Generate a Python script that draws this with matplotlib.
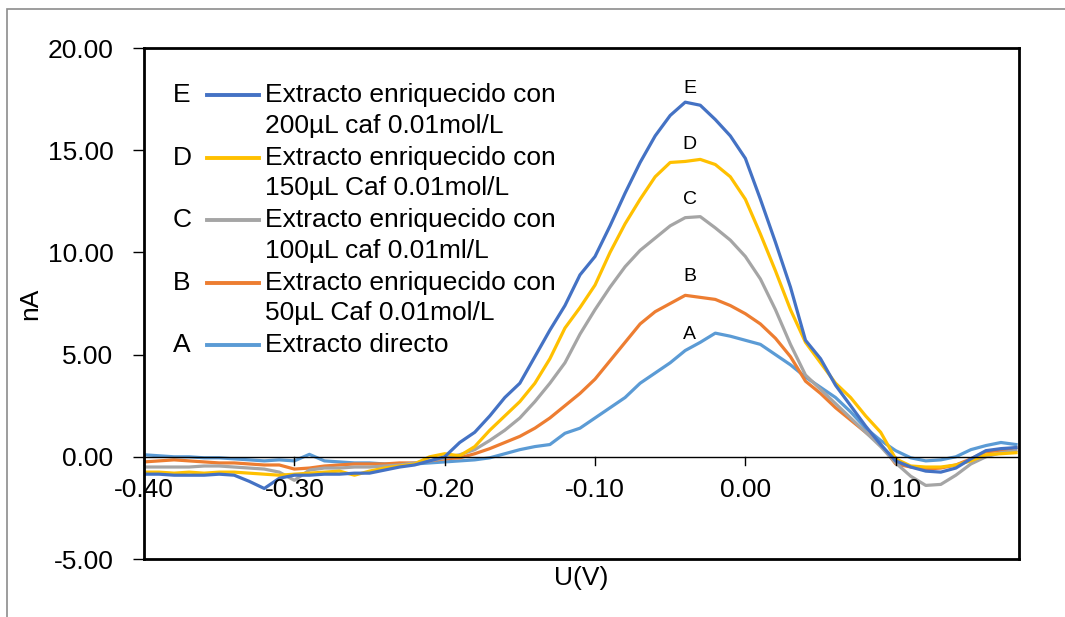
import numpy as np
import matplotlib
matplotlib.use("Agg")
import matplotlib.pyplot as plt
from matplotlib.patches import Rectangle

plt.rcParams['font.family'] = ['Liberation Sans', 'DejaVu Sans']

# potencial (V)
U = np.round(np.arange(-0.40, 0.1801, 0.01), 2)

# corriente (nA) de cada curva
E = [-0.85, -0.85, -0.9, -0.9, -0.9, -0.85, -0.9, -1.2, -1.55, -1.05,
     -0.9, -0.9, -0.85, -0.85, -0.8, -0.8, -0.65, -0.5, -0.4, -0.2,
     0.0, 0.7, 1.2, 2.0, 2.9, 3.6, 4.9, 6.2, 7.4, 8.9,
     9.8, 11.3, 12.9, 14.4, 15.7, 16.7, 17.35, 17.2, 16.5, 15.7,
     14.6, 12.6, 10.5, 8.3, 5.7, 4.8, 3.5, 2.5, 1.5, 0.6,
     -0.2, -0.5, -0.7, -0.75, -0.55, -0.1, 0.3, 0.4, 0.45]
D = [-0.75, -0.75, -0.8, -0.75, -0.8, -0.75, -0.75, -0.8, -0.85, -0.9,
     -0.85, -0.8, -0.75, -0.7, -0.9, -0.7, -0.55, -0.45, -0.35, 0.0,
     0.15, 0.05, 0.5, 1.3, 2.0, 2.7, 3.6, 4.8, 6.3, 7.3,
     8.4, 10.0, 11.4, 12.6, 13.7, 14.4, 14.45, 14.55, 14.3, 13.7,
     12.6, 10.9, 9.1, 7.2, 5.6, 4.6, 3.6, 2.9, 2.0, 1.2,
     -0.1, -0.45, -0.5, -0.5, -0.4, -0.2, 0.1, 0.15, 0.2]
C = [-0.5, -0.5, -0.5, -0.5, -0.45, -0.45, -0.5, -0.55, -0.6, -0.75,
     -1.15, -0.65, -0.55, -0.55, -0.5, -0.5, -0.45, -0.4, -0.3, -0.2,
     -0.05, 0.1, 0.35, 0.8, 1.3, 1.9, 2.7, 3.6, 4.6, 6.0,
     7.2, 8.3, 9.3, 10.1, 10.7, 11.3, 11.7, 11.75, 11.2, 10.6,
     9.8, 8.7, 7.2, 5.5, 4.0, 3.3, 2.6, 1.9, 1.2, 0.5,
     -0.3, -0.95, -1.4, -1.35, -0.9, -0.35, 0.0, 0.2, 0.3]
B = [-0.25, -0.2, -0.15, -0.2, -0.25, -0.3, -0.3, -0.35, -0.4, -0.4,
     -0.6, -0.55, -0.45, -0.4, -0.35, -0.35, -0.35, -0.3, -0.3, -0.2,
     -0.1, -0.05, 0.15, 0.4, 0.7, 1.0, 1.4, 1.9, 2.5, 3.1,
     3.8, 4.7, 5.6, 6.5, 7.1, 7.5, 7.9, 7.8, 7.7, 7.4,
     7.0, 6.5, 5.8, 4.9, 3.7, 3.1, 2.4, 1.8, 1.2, 0.6,
     -0.35, -0.5, -0.6, -0.55, -0.4, -0.1, 0.25, 0.3, 0.45]
A = [0.1, 0.05, 0.0, 0.0, -0.05, -0.05, -0.1, -0.15, -0.2, -0.15,
     -0.2, 0.12, -0.2, -0.25, -0.3, -0.3, -0.35, -0.35, -0.35, -0.3,
     -0.25, -0.2, -0.15, -0.05, 0.15, 0.35, 0.5, 0.6, 1.15, 1.4,
     1.9, 2.4, 2.9, 3.6, 4.1, 4.6, 5.2, 5.6, 6.05, 5.9,
     5.7, 5.5, 5.0, 4.5, 3.9, 3.4, 2.9, 2.2, 1.4, 0.8,
     0.3, -0.05, -0.2, -0.15, 0.0, 0.35, 0.55, 0.7, 0.6]

letras = ["E", "D", "C", "B", "A"]
series = [E, D, C, B, A]
colores = ["#4472C4", "#FFC000", "#A5A5A5", "#ED7D31", "#5B9BD5"]
leyenda = [("Extracto enriquecido con", "200µL caf 0.01mol/L"),
           ("Extracto enriquecido con", "150µL Caf 0.01mol/L"),
           ("Extracto enriquecido con", "100µL caf 0.01ml/L"),
           ("Extracto enriquecido con", "50µL Caf 0.01mol/L"),
           ("Extracto directo", None)]
# posicion de las letras sobre los picos
pico_x = [-0.037, -0.037, -0.037, -0.037, -0.037]
pico_y = [18.0, 15.3, 12.6, 8.8, 6.0]

fig = plt.figure(figsize=(10.65, 6.17), dpi=100)
ax = fig.add_axes([0.1352, 0.094, 0.8216, 0.8282])

# borde gris de la figura
fig.patches.append(Rectangle((7 / 1065, -0.1), 1.2, (617 - 9) / 617 + 0.1,
                             transform=fig.transFigure, fill=False,
                             edgecolor="#8c8c8c", linewidth=1.2))

for s, c in zip(series[::-1], colores[::-1]):
    ax.plot(U, s, color=c, linewidth=2.3, solid_joinstyle="round")

for l, x, y in zip(letras, pico_x, pico_y):
    ax.text(x, y, l, fontsize=14, ha="center", va="center")

ax.axhline(0, color="black", linewidth=1.0)
ax.set_xlim(-0.40, 0.182)
ax.set_ylim(-5, 20)
ax.set_yticks(np.arange(-5, 21, 5))
ax.set_yticklabels([f"{v:.2f}" for v in np.arange(-5, 21, 5)])
ax.tick_params(axis="y", labelsize=19, length=8, width=1, pad=14)

# eje x cruzando en y=0
ax.set_xticks([])
for xt in np.arange(-0.40, 0.11, 0.10):
    ax.plot([xt, xt], [0, -0.4], color="black", linewidth=1, clip_on=False)
    ax.text(xt, -1.6, f"{xt:.2f}".replace("-0.00", "0.00"), fontsize=19,
            ha="center", va="center")

for sp in ax.spines.values():
    sp.set_linewidth(2)

ax.set_xlabel("U(V)", fontsize=19, labelpad=5)
ax.set_ylabel("nA", fontsize=19, labelpad=4)

# leyenda manual
y0 = 0.908
for i, (l, c, (t1, t2)) in enumerate(zip(letras, colores, leyenda)):
    y = y0 - i * 0.1225
    ax.text(0.0434, y, l, transform=ax.transAxes, fontsize=19,
            ha="center", va="center")
    ax.plot([0.072, 0.132], [y, y], transform=ax.transAxes, color=c,
            linewidth=2.8)
    ax.text(0.138, y, t1, transform=ax.transAxes, fontsize=19, va="center")
    if t2:
        ax.text(0.138, y - 0.06, t2, transform=ax.transAxes, fontsize=19,
                va="center")

fig.savefig("out.png", dpi=100)
